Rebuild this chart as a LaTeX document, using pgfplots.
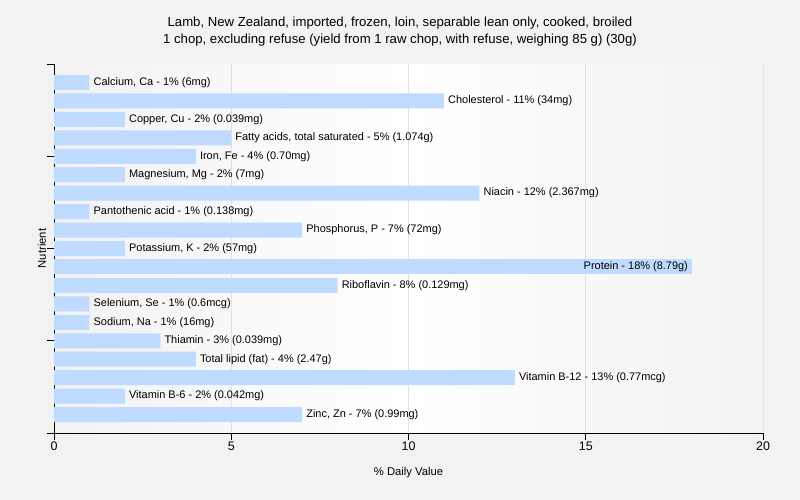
\documentclass[border=0pt]{standalone}
\usepackage{pgfplots}
\pgfplotsset{compat=1.18}
\usepackage{pgfplotstable}
\usepackage{fontspec}
\setmainfont{Liberation Sans}
\usetikzlibrary{backgrounds,calc}

\definecolor{barblue}{RGB}{191,219,255}
\definecolor{pagebg}{RGB}{242,242,242}
\definecolor{gridgray}{RGB}{225,225,225}

% % Daily Value per nutrient, row 0 at the top
\pgfplotstableread[col sep=semicolon]{
y;v;label
0;1;Calcium, Ca - 1\% (6mg)
1;11;Cholesterol - 11\% (34mg)
2;2;Copper, Cu - 2\% (0.039mg)
3;5;Fatty acids, total saturated - 5\% (1.074g)
4;4;Iron, Fe - 4\% (0.70mg)
5;2;Magnesium, Mg - 2\% (7mg)
6;12;Niacin - 12\% (2.367mg)
7;1;Pantothenic acid - 1\% (0.138mg)
8;7;Phosphorus, P - 7\% (72mg)
9;2;Potassium, K - 2\% (57mg)
11;8;Riboflavin - 8\% (0.129mg)
12;1;Selenium, Se - 1\% (0.6mcg)
13;1;Sodium, Na - 1\% (16mg)
14;3;Thiamin - 3\% (0.039mg)
15;4;Total lipid (fat) - 4\% (2.47g)
16;13;Vitamin B-12 - 13\% (0.77mcg)
17;2;Vitamin B-6 - 2\% (0.042mg)
18;7;Zinc, Zn - 7\% (0.99mg)
}\nutrients

\begin{document}
\begin{tikzpicture}
\begin{axis}[
    name=ax,
    scale only axis,
    width=709bp, height=369bp,
    xmin=0, xmax=20,
    ymin=-1, ymax=19,
    y dir=reverse,
    axis x line*=bottom,
    axis y line*=left,
    axis line style={black, line width=0.8pt},
    xtick={0,5,10,15,20},
    ytick={-1,4,9,14,19},
    yticklabels={},
    tick align=outside,
    major tick length=7bp,
    tick style={black, line width=0.8pt},
    xmajorgrids,
    grid style={gridgray, line width=0.8pt},
    axis background/.style={left color=pagebg, right color=pagebg, middle color=white},
    /pgf/number format/assume math mode=true,
    ticklabel style={font=\fontsize{12.5}{14}\selectfont},
    xticklabel style={yshift=2bp},
    xlabel={\% Daily Value},
    ylabel={Nutrient},
    label style={font=\fontsize{11.3}{13}\selectfont},
    xlabel style={at={(axis description cs:0.5,-0.1165)}, anchor=base, inner sep=0pt},
    ylabel style={at={(axis description cs:-0.011,0.5)}, anchor=south, inner sep=0pt},
    xbar, bar width=15bp, bar shift=0pt,
    nodes near coords,
    point meta=explicit symbolic,
]
\addplot[fill=barblue, draw=none,
    nodes near coords style={anchor=west, inner sep=0pt, xshift=4bp, font=\fontsize{11}{13}\selectfont}]
    table[x=v, y=y, meta=label] {\nutrients};
\addplot[fill=barblue, draw=none,
    nodes near coords style={anchor=east, inner sep=0pt, xshift=-4bp, font=\fontsize{11}{13}\selectfont}]
    coordinates {(18,10) [Protein - 18\% (8.79g)]};
\end{axis}
\pgfresetboundingbox
\coordinate (A) at ($(ax.south west)+(-54bp,-67bp)$);
\coordinate (B) at ($(A)+(800bp,500bp)$);
\begin{scope}[on background layer]
\fill[pagebg] (A) rectangle (B);
\end{scope}
\node[anchor=base, inner sep=0pt, font=\fontsize{13.2}{15}\selectfont] at ($(A)+(400bp,473bp)$)
    {Lamb, New Zealand, imported, frozen, loin, separable lean only, cooked, broiled};
\node[anchor=base, inner sep=0pt, font=\fontsize{13.2}{15}\selectfont] at ($(A)+(400bp,456bp)$)
    {1 chop, excluding refuse (yield from 1 raw chop, with refuse, weighing 85 g) (30g)};
\useasboundingbox (A) rectangle (B);
\end{tikzpicture}
\end{document}
